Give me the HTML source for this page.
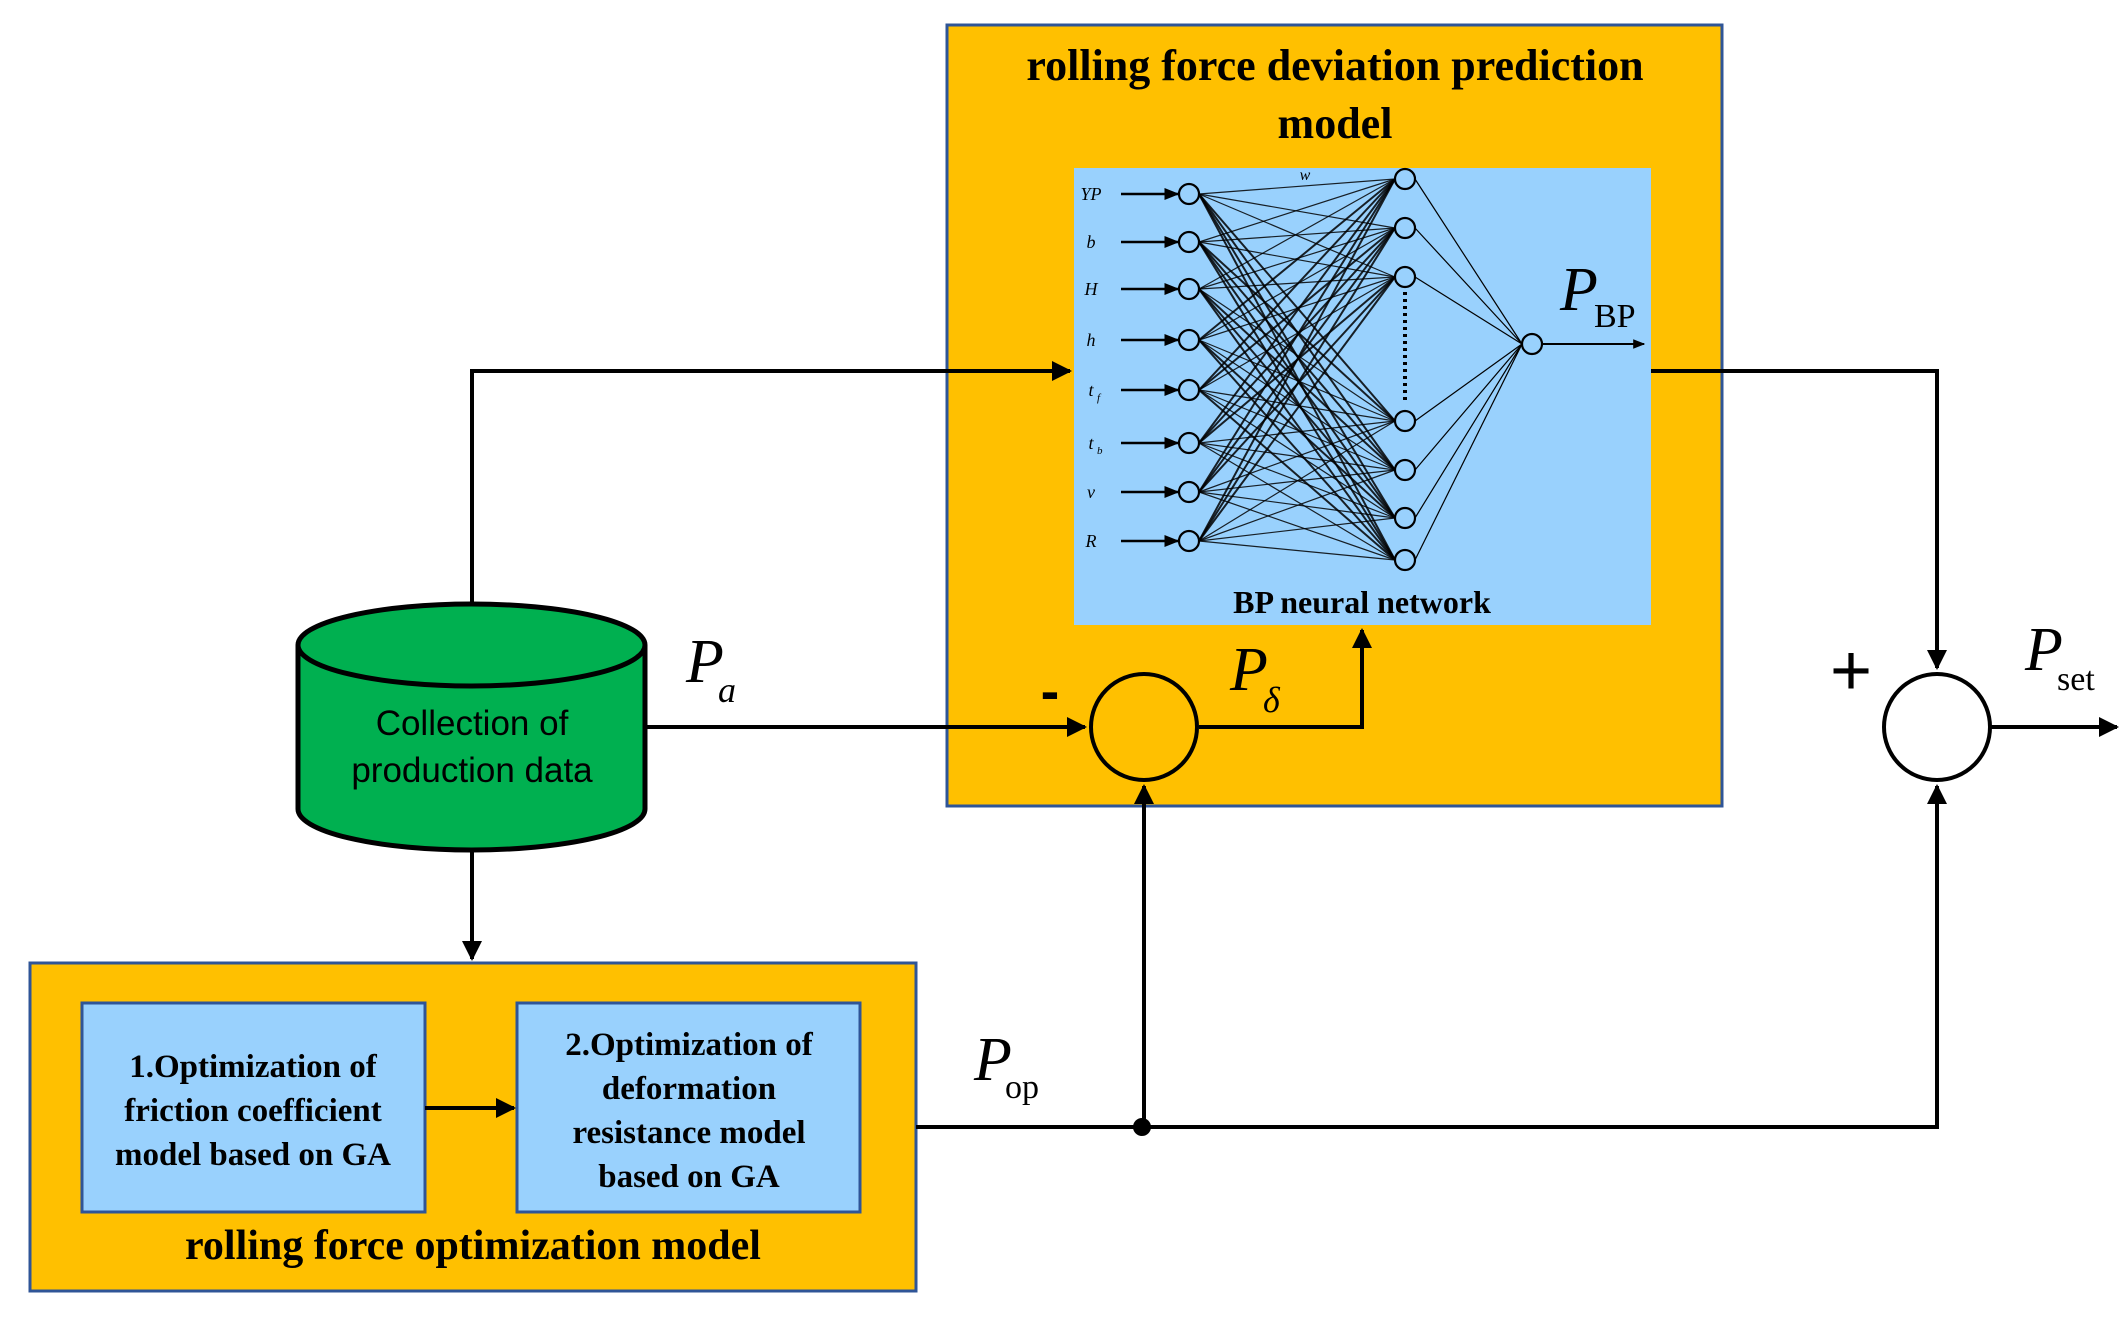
<!DOCTYPE html>
<html><head><meta charset="utf-8"><style>
html,body{margin:0;padding:0;background:#fff}
svg{display:block}
.t{font-family:"Liberation Serif",serif;font-weight:bold;fill:#000}
</style></head><body>
<svg id="s" width="2123" height="1325" viewBox="0 0 2123 1325" xmlns="http://www.w3.org/2000/svg">
<defs>
<marker id="a" viewBox="0 0 10 10" refX="9" refY="5" markerWidth="5" markerHeight="5" orient="auto"><path d="M0,0L10,5L0,10z" fill="#000"/></marker>
<marker id="s2" viewBox="0 0 10 10" refX="9" refY="5" markerWidth="6" markerHeight="6" orient="auto"><path d="M0,1L10,5L0,9z" fill="#000"/></marker>
</defs>
<!-- top orange box -->
<rect x="947" y="25" width="775" height="781" fill="#ffc000" stroke="#2f5597" stroke-width="3"/>
<text class="t" x="1335" y="80" font-size="44" text-anchor="middle">rolling force deviation prediction</text>
<text class="t" x="1335" y="138" font-size="44" text-anchor="middle">model</text>
<rect x="1074" y="168" width="577" height="457" fill="#99d1fd"/>
<g id="nn" stroke="#000" fill="none"></g>
<text class="t" x="1362" y="613" font-size="32" text-anchor="middle">BP neural network</text>
<text x="1305" y="180" font-size="16" font-style="italic" font-family="Liberation Serif,serif" text-anchor="middle">w</text>
<text x="1560" y="310" font-size="62" font-style="italic" font-family="Liberation Serif,serif">P</text>
<text x="1594" y="327" font-size="34" font-family="Liberation Serif,serif">BP</text>

<!-- bottom orange box -->
<rect x="30" y="963" width="886" height="328" fill="#ffc000" stroke="#2f5597" stroke-width="3"/>
<rect x="82" y="1003" width="343" height="209" fill="#99d1fd" stroke="#2f5597" stroke-width="3"/>
<rect x="517" y="1003" width="343" height="209" fill="#99d1fd" stroke="#2f5597" stroke-width="3"/>
<g class="t" font-size="33" text-anchor="middle">
<text x="253" y="1077">1.Optimization of</text>
<text x="253" y="1121">friction coefficient</text>
<text x="253" y="1165">model based on GA</text>
<text x="689" y="1055">2.Optimization of</text>
<text x="689" y="1099">deformation</text>
<text x="689" y="1143">resistance model</text>
<text x="689" y="1187">based on GA</text>
<text x="473" y="1259" font-size="42">rolling force optimization model</text>
</g>
<line x1="425" y1="1108" x2="514" y2="1108" stroke="#000" stroke-width="4" marker-end="url(#a)"/>

<!-- connectors -->
<g stroke="#000" stroke-width="4" fill="none">
<polyline points="472,605 472,371 1070,371" marker-end="url(#a)"/>
<polyline points="1651,371 1937,371 1937,668" marker-end="url(#a)"/>
<line x1="645" y1="727" x2="1085" y2="727" marker-end="url(#a)"/>
<polyline points="1199,727 1362,727 1362,630" marker-end="url(#a)"/>
<line x1="472" y1="849" x2="472" y2="959" marker-end="url(#a)"/>
<polyline points="916,1127 1937,1127 1937,786" marker-end="url(#a)"/>
<line x1="1144" y1="1127" x2="1144" y2="786" marker-end="url(#a)"/>
<line x1="1991" y1="727" x2="2117" y2="727" marker-end="url(#a)"/>
</g>
<circle cx="1142" cy="1127" r="9" fill="#000"/>
<circle cx="1144" cy="727" r="53" fill="#ffc000" stroke="#000" stroke-width="4"/>
<circle cx="1937" cy="727" r="53" fill="#fff" stroke="#000" stroke-width="4"/>
<text x="1050" y="710" font-size="56" font-weight="bold" font-family="Liberation Sans,sans-serif" text-anchor="middle">-</text>
<text x="1851" y="695" font-size="72" font-family="Liberation Sans,sans-serif" text-anchor="middle">+</text>
<g font-family="Liberation Serif,serif" font-style="italic">
<text x="686" y="682" font-size="62">P</text><text x="718" y="702" font-size="36">a</text>
<text x="1230" y="690" font-size="62">P</text><text x="1263" y="712" font-size="36">δ</text>
<text x="2025" y="670" font-size="62">P</text>
<text x="974" y="1080" font-size="62">P</text>
</g>
<text x="2057" y="690" font-size="34" font-family="Liberation Serif,serif">set</text>
<text x="1005" y="1098" font-size="34" font-family="Liberation Serif,serif">op</text>

<!-- cylinder -->
<path d="M298,645 L298,809 A173.5,41 0 0 0 645,809 L645,645" fill="#00b050" stroke="#000" stroke-width="5"/>
<ellipse cx="471.5" cy="645" rx="173.5" ry="41" fill="#00b050" stroke="#000" stroke-width="5"/>
<g font-family="Liberation Sans,sans-serif" font-size="35" text-anchor="middle" fill="#000">
<text x="472" y="735">Collection of</text>
<text x="472" y="782">production data</text>
</g>
</svg>
<script>
var ns="http://www.w3.org/2000/svg",g=document.getElementById("nn");
function el(n,a){var e=document.createElementNS(ns,n);for(var k in a)e.setAttribute(k,a[k]);g.appendChild(e);return e;}
var iy=[194,242,289,340,390,443,492,541],hy=[179,228,277,421,470,518,560];
var lab=["YP","b","H","h","t_f","t_b","v","R"];
iy.forEach(function(y){hy.forEach(function(h){el("line",{x1:1199,y1:y,x2:1395,y2:h,"stroke-width":(Math.abs(y-h)>150?2:1.2),"stroke-opacity":0.85});});});
hy.forEach(function(h){el("line",{x1:1415,y1:h,x2:1522,y2:344,"stroke-width":1.2});});
el("line",{x1:1542,y1:344,x2:1644,y2:344,"stroke-width":2,"marker-end":"url(#s2)"});
el("line",{x1:1405,y1:292,x2:1405,y2:402,"stroke-width":4,"stroke-dasharray":"3,4"});
iy.forEach(function(y,i){
 el("line",{x1:1121,y1:y,x2:1178,y2:y,"stroke-width":2.5,"marker-end":"url(#s2)"});
 el("circle",{cx:1189,cy:y,r:10,fill:"#99d1fd","stroke-width":2.2});
 var t=el("text",{x:1091,y:y+6,"font-size":18,"font-style":"italic","font-family":"Liberation Serif,serif",fill:"#000",stroke:"none","text-anchor":"middle"});
 t.textContent=lab[i].replace(/_./,"");
 if(lab[i].indexOf("_")>0){var s=el("text",{x:1097,y:y+11,"font-size":11,"font-style":"italic","font-family":"Liberation Serif,serif",fill:"#000",stroke:"none"});s.textContent=lab[i].slice(-1);}
});
hy.forEach(function(h){el("circle",{cx:1405,cy:h,r:10,fill:"#99d1fd","stroke-width":2.2});});
el("circle",{cx:1532,cy:344,r:10,fill:"#99d1fd","stroke-width":2.2});
</script>
</body></html>
